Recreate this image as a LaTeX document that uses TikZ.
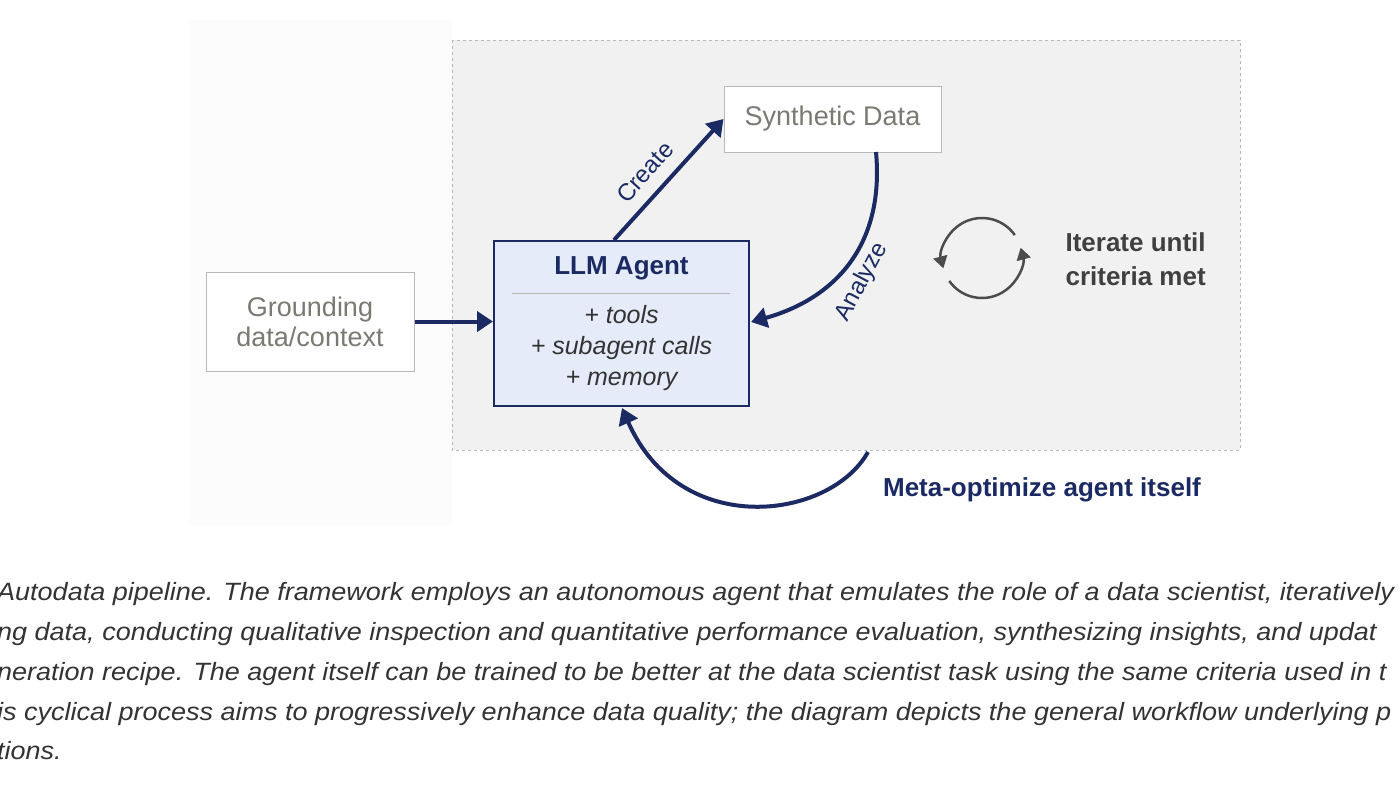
\documentclass[tikz,border=0pt]{standalone}
\usepackage{fontspec}
\setmainfont{Liberation Sans}
\newfontfamily\captfont{Liberation Sans}[FakeStretch=1.08]
\usetikzlibrary{arrows.meta}
\definecolor{navy}{HTML}{1B2A63}
\definecolor{gtext}{HTML}{7A7A72}
\definecolor{gborder}{HTML}{B8B8B8}
\definecolor{panel}{HTML}{F1F1F1}
\definecolor{agentfill}{HTML}{E5EBF8}
\definecolor{capt}{HTML}{333333}
\begin{document}
\begin{tikzpicture}[x=1pt,y=-1pt,
  plain/.style={draw=gborder,fill=white,line width=1pt,text=gtext,align=center,font=\fontsize{27}{32}\selectfont,inner sep=0},
  flow/.style={draw=navy,line width=4pt,-{Triangle[length=16pt,width=20pt]}},
  lbl/.style={text=navy,font=\fontsize{24}{28}\selectfont},
  captline/.style={anchor=base west,text=capt,font=\captfont\fontsize{25}{28}\selectfont\itshape,inner sep=0}]
\useasboundingbox (0,0) rectangle (1400,788);
\clip (0,0) rectangle (1400,788);
\fill[white] (0,0) rectangle (1400,788);
\fill[white!99!black] (190,20) rectangle (452,525);
\draw[dashed,draw=gborder,fill=panel,line width=1pt] (452,40) rectangle (1240,450);
\node[plain,minimum width=217pt,minimum height=66pt] (syn) at (832.5,119) {Synthetic Data};
\node[plain,minimum width=208pt,minimum height=99pt] (gr) at (310,321.5) {Grounding\\[-2pt]data/context};
\node[draw=navy,fill=agentfill,line width=2pt,minimum width=255pt,minimum height=165pt,inner sep=0] (ag) at (621.5,323.5) {};
\node[font=\fontsize{26}{30}\selectfont\bfseries,text=navy] (t1) at (621.5,268) {LLM Agent};
\draw[draw=gborder,line width=1pt] (512,293) -- (730,293);
\node[font=\fontsize{25}{31}\selectfont\itshape,text=capt,align=center] (t2) at (621.5,348) {+ tools\\+ subagent calls\\+ memory};
\draw[flow] (gr.east) -- (gr.east -| ag.west);
\coordinate (c0) at (614,240);
\draw[flow] (c0) -- (syn.west);
\node[lbl,rotate=48] (lc) at (645,172) {Create};
\coordinate (a0) at (876,152);
\coordinate (a1) at (751,322);
\draw[flow] (a0) .. controls (885,250) and (830,300) .. (a1);
\node[lbl,rotate=62] (la) at (862,282) {Analyze};
\coordinate (m0) at (868,452);
\coordinate (m1) at (622,408);
\draw[flow] (m0) .. controls (830,520) and (680,540) .. (m1);
\node[font=\fontsize{26}{30}\selectfont\bfseries,text=navy] (lm) at (1042,490) {Meta-optimize agent itself};
\begin{scope}[draw=black!70,line width=2.5pt]
\draw[-{Triangle[length=12pt,width=14pt]}] (982,258) ++(145:40) arc (145:-15:40);
\draw[-{Triangle[length=12pt,width=14pt]}] (982,258) ++(-35:40) arc (-35:-195:40);
\end{scope}
\node[anchor=west,align=left,font=\fontsize{26}{34}\selectfont\bfseries,text=black!75] (it) at (1062,259) {Iterate until\\criteria met};
\node[captline] (c1) at (-3,600) {Autodata pipeline. The framework employs an autonomous agent that emulates the role of a data scientist, iteratively};
\node[captline] (c2) at (-3,640) {ng data, conducting qualitative inspection and quantitative performance evaluation, synthesizing insights, and updat};
\node[captline] (c3) at (-3,680) {neration recipe. The agent itself can be trained to be better at the data scientist task using the same criteria used in t};
\node[captline] (c4) at (-3,720) {is cyclical process aims to progressively enhance data quality; the diagram depicts the general workflow underlying p};
\node[captline] (c5) at (-3,759) {tions.};
\end{tikzpicture}
\end{document}
